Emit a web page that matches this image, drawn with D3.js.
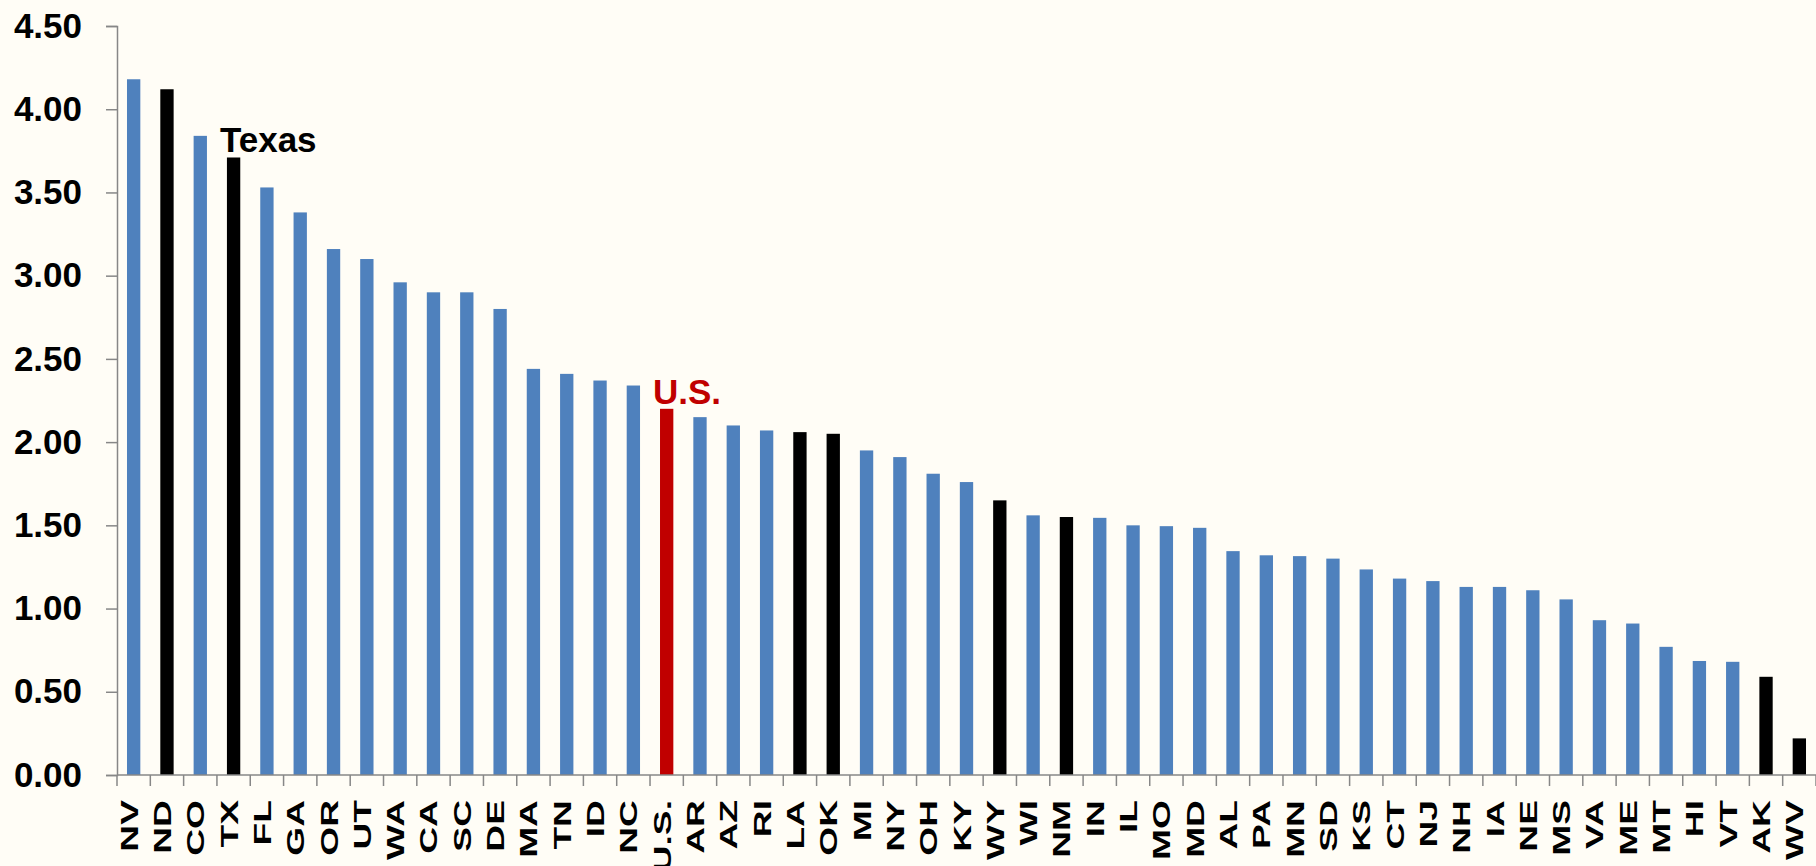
<!DOCTYPE html>
<html>
<head>
<meta charset="utf-8">
<script src="https://cdn.jsdelivr.net/npm/d3@7"></script>
<style>
  html, body { margin: 0; padding: 0; background: #FFFDF6; }
  svg { display: block; }
  text { font-family: "Liberation Sans", Arial, sans-serif; font-weight: bold; }
</style>
</head>
<body>
<div id="chart"></div>
<script>
// states, sorted as in the source chart
const states = ["NV","ND","CO","TX","FL","GA","OR","UT","WA","CA","SC","DE","MA","TN","ID","NC","U.S.",
  "AR","AZ","RI","LA","OK","MI","NY","OH","KY","WY","WI","NM","IN","IL","MO","MD","AL","PA","MN","SD",
  "KS","CT","NJ","NH","IA","NE","MS","VA","ME","MT","HI","VT","AK","WV"];
const values = [4.18,4.12,3.84,3.71,3.53,3.38,3.16,3.10,2.96,2.90,2.90,2.80,2.44,2.41,2.37,2.34,2.20,
  2.15,2.10,2.07,2.06,2.05,1.95,1.91,1.81,1.76,1.65,1.56,1.55,1.545,1.50,1.495,1.485,1.345,1.32,1.315,1.30,
  1.235,1.18,1.165,1.13,1.13,1.11,1.055,0.93,0.91,0.77,0.685,0.68,0.59,0.22];
// states drawn in black
const producers = ["ND","TX","LA","OK","WY","NM","AK","WV"];
const total = "U.S.";
const yTicks = [0, 0.5, 1, 1.5, 2, 2.5, 3, 3.5, 4, 4.5];
const callouts = [["TX", "Texas"], ["U.S.", "U.S."]];

const data = states.map((s, i) => ({ state: s, value: values[i] }));

const W = 1816, H = 866;
const margin = { top: 26, right: 0, bottom: 91, left: 117 };

const svg = d3.select("#chart").append("svg")
    .attr("width", W)
    .attr("height", H);

svg.append("rect").attr("width", W).attr("height", H).attr("fill", "#FFFDF6");

const x = d3.scaleBand()
    .domain(states)
    .range([margin.left, W - margin.right])
    .paddingInner(0.6)
    .paddingOuter(0.3);

const y = d3.scaleLinear()
    .domain([0, 4.5])
    .range([H - margin.bottom, margin.top]);

const axisColor = "#878787";

// y axis
const yAxis = svg.append("g")
    .attr("transform", `translate(${margin.left},0)`)
    .call(d3.axisLeft(y).tickValues(yTicks).tickFormat(d3.format(".2f")).tickSize(11).tickPadding(24));
yAxis.select(".domain").attr("stroke", axisColor).attr("stroke-width", 1.5);
yAxis.selectAll(".tick line").attr("stroke", axisColor).attr("stroke-width", 1.5);
yAxis.selectAll(".tick text")
    .attr("fill", "#000")
    .style("font-size", "35px")
    .style("font-family", "'Liberation Sans', Arial, sans-serif")
    .style("font-weight", "bold");

// bars
svg.selectAll(".bar")
    .data(data)
    .enter()
    .append("rect")
    .attr("class", "bar")
    .attr("x", d => x(d.state))
    .attr("y", d => y(d.value))
    .attr("width", x.bandwidth())
    .attr("height", d => y(0) - y(d.value))
    .attr("fill", d => d.state === total ? "#C00000" : producers.includes(d.state) ? "#000000" : "#4F81BD");

// x axis line and ticks between categories
const x0 = y(0);
const xAxis = svg.append("g");
xAxis.append("line")
    .attr("x1", margin.left).attr("x2", W)
    .attr("y1", x0).attr("y2", x0)
    .attr("stroke", axisColor).attr("stroke-width", 1.5);
xAxis.selectAll(".xtick")
    .data(states.concat(["end"]))
    .enter()
    .append("line")
    .attr("class", "xtick")
    .attr("x1", (d, i) => margin.left + i * x.step())
    .attr("x2", (d, i) => margin.left + i * x.step())
    .attr("y1", x0).attr("y2", x0 + 11)
    .attr("stroke", axisColor).attr("stroke-width", 1.5);

// rotated category labels
xAxis.selectAll(".xlabel")
    .data(states)
    .enter()
    .append("text")
    .attr("class", "xlabel")
    .attr("text-anchor", "end")
    .attr("transform", d => `translate(${x(d) + x.bandwidth() / 2 + 4},${x0 + 25}) rotate(-90) scale(1.55,1)`)
    .style("font-size", "24px")
    .attr("fill", "#000")
    .text(d => d);

// callout labels
svg.selectAll(".callout")
    .data(callouts)
    .enter()
    .append("text")
    .attr("class", "callout")
    .attr("x", d => x(d[0]) - 7)
    .attr("y", d => y(values[states.indexOf(d[0])]) - 5)
    .style("font-size", "35px")
    .attr("fill", d => d[0] === total ? "#C00000" : "#000")
    .text(d => d[1]);
</script>
</body>
</html>
